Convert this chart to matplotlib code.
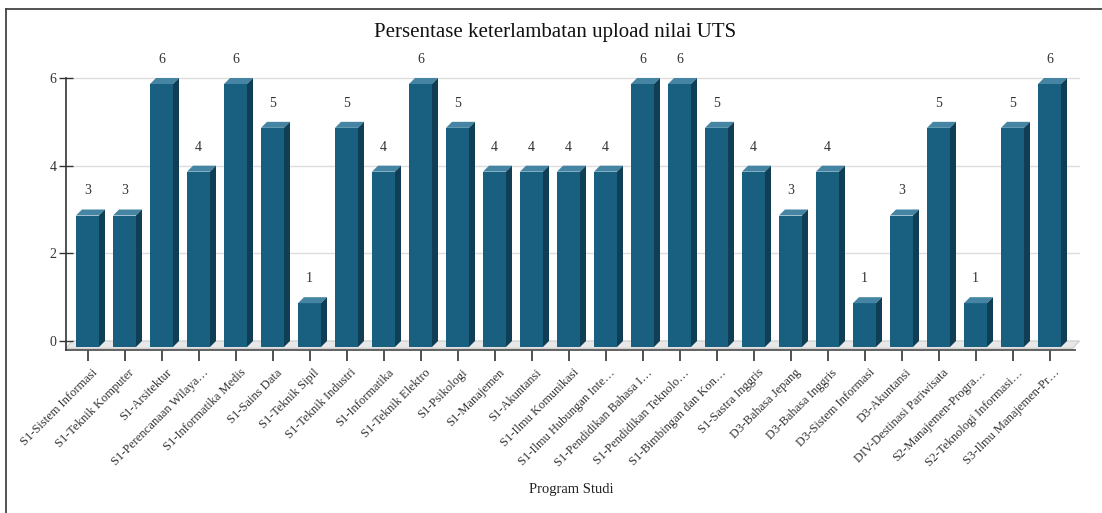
import matplotlib
matplotlib.use('Agg')
import matplotlib.pyplot as plt
import matplotlib.transforms as mtransforms
import numpy as np
from matplotlib.patches import Polygon
from matplotlib.lines import Line2D

# data
programs = [
    'S1-Sistem Informasi', 'S1-Teknik Komputer', 'S1-Arsitektur',
    'S1-Perencanaan Wilaya…', 'S1-Informatika Medis', 'S1-Sains Data',
    'S1-Teknik Sipil', 'S1-Teknik Industri', 'S1-Informatika',
    'S1-Teknik Elektro', 'S1-Psikologi', 'S1-Manajemen', 'S1-Akuntansi',
    'S1-Ilmu Komunikasi', 'S1-Ilmu Hubungan Inte…', 'S1-Pendidikan Bahasa I…',
    'S1-Pendidikan Teknolo…', 'S1-Bimbingan dan Kon…', 'S1-Sastra Inggris',
    'D3-Bahasa Jepang', 'D3-Bahasa Inggris', 'D3-Sistem Informasi',
    'D3-Akuntansi', 'DIV-Destinasi Pariwisata', 'S2-Manajemen-Progra…',
    'S2-Teknologi Informasi…', 'S3-Ilmu Manajemen-Pr…',
]
values = [3, 3, 6, 4, 6, 5, 1, 5, 4, 6, 5, 4, 4, 4, 4, 6, 6, 5, 4, 3, 4, 1, 3, 5, 1, 5, 6]
y_ticks = [0, 2, 4, 6]

plt.rcParams['font.family'] = ['Liberation Serif', 'DejaVu Serif']

W, H = 1102, 513
fig = plt.figure(figsize=(W / 100, H / 100), dpi=100)

# axes placed in pixel terms
px_left, px_right, px_top, px_bottom = 66, 1080, 55, 350
ax = fig.add_axes([px_left / W, 1 - px_bottom / H,
                   (px_right - px_left) / W, (px_bottom - px_top) / H])

pitch = 37.0          # px between bars
first_center = 87.5   # px
zero_front = 347      # px
unit_y = 263 / 6      # px per value unit

x_lo = (px_left - first_center) / pitch
x_hi = (px_right - first_center) / pitch
y_lo = -(px_bottom - zero_front) / unit_y
y_hi = (zero_front - px_top) / unit_y
ax.set_xlim(x_lo, x_hi)
ax.set_ylim(y_lo, y_hi)

dx = 6 / pitch
dy = 6 / unit_y
w = 23 / pitch

c_front = '#185f80'
c_top = '#4585a3'
c_side = '#0f3e55'

x = np.arange(len(values))
x_floor_end = (1073 - first_center) / pitch

# back wall grid
for v in y_ticks:
    ax.plot([x_lo + dx, x_floor_end + dx], [v + dy, v + dy],
            color='#dddddd', lw=1, zorder=0)

# floor
floor = Polygon([(x_lo, -0.03), (x_floor_end, -0.03),
                 (x_floor_end + dx, dy), (x_lo + dx, dy)],
                closed=True, fc='#e8e8e8', ec='#cccccc', lw=0.8, zorder=1)
ax.add_patch(floor)
ax.plot([x_lo, x_floor_end + dx * 0.3], [y_lo + 0.01, y_lo + 0.01],
        color='#555555', lw=1.3, zorder=2, clip_on=False)

# bars
ax.bar(x, values, width=w, color=c_front, zorder=3, linewidth=0)
for xi, v in zip(x, values):
    l, r = xi - w / 2, xi + w / 2
    ax.add_patch(Polygon([(l, v), (r, v), (r + dx, v + dy), (l + dx, v + dy)],
                         closed=True, fc=c_top, ec='none', zorder=3))
    ax.add_patch(Polygon([(r, 0), (r + dx, dy), (r + dx, v + dy), (r, v)],
                         closed=True, fc=c_side, ec='none', zorder=3))
    ax.text(xi, v + 0.56, str(v), ha='center', va='center',
            fontsize=10, color='#333333', zorder=4)

# axes styling
for s in ['top', 'right', 'bottom']:
    ax.spines[s].set_visible(False)
ax.spines['left'].set_color('#333333')
ax.spines['left'].set_linewidth(1.2)
ax.spines['left'].set_bounds(y_lo, 6 + dy)

ax.set_yticks([v + dy for v in y_ticks])
ax.set_yticklabels([str(v) for v in y_ticks])
ax.tick_params(axis='y', direction='inout', length=10, width=1,
               color='#333333', labelsize=10, labelcolor='#333333', pad=2)

ax.set_xticks(x)
ax.set_xticklabels(programs, rotation=45, ha='right', va='top',
                   rotation_mode='anchor')
ax.tick_params(axis='x', direction='out', length=8, width=1.1,
               color='#222222', labelsize=9, labelcolor='#333333', pad=4)
shift = mtransforms.ScaledTranslation(4 / 100, 0, fig.dpi_scale_trans)
for lab in ax.get_xticklabels():
    lab.set_transform(lab.get_transform() + shift)

# title and axis label
fig.text(555 / W, 1 - 32 / H, 'Persentase keterlambatan upload nilai UTS',
         ha='center', va='center', fontsize=15, color='#111111')
fig.text(571 / W, 1 - 489 / H, 'Program Studi',
         ha='center', va='center', fontsize=10.5, color='#222222')

# outer frame (left and top edges)
fig.add_artist(Line2D([6 / W, 6 / W], [0, 1 - 9 / H],
                      transform=fig.transFigure, color='#444444', lw=1.3))
fig.add_artist(Line2D([6 / W, 1], [1 - 9 / H, 1 - 9 / H],
                      transform=fig.transFigure, color='#444444', lw=1.3))

fig.savefig('out.png', dpi=100)
